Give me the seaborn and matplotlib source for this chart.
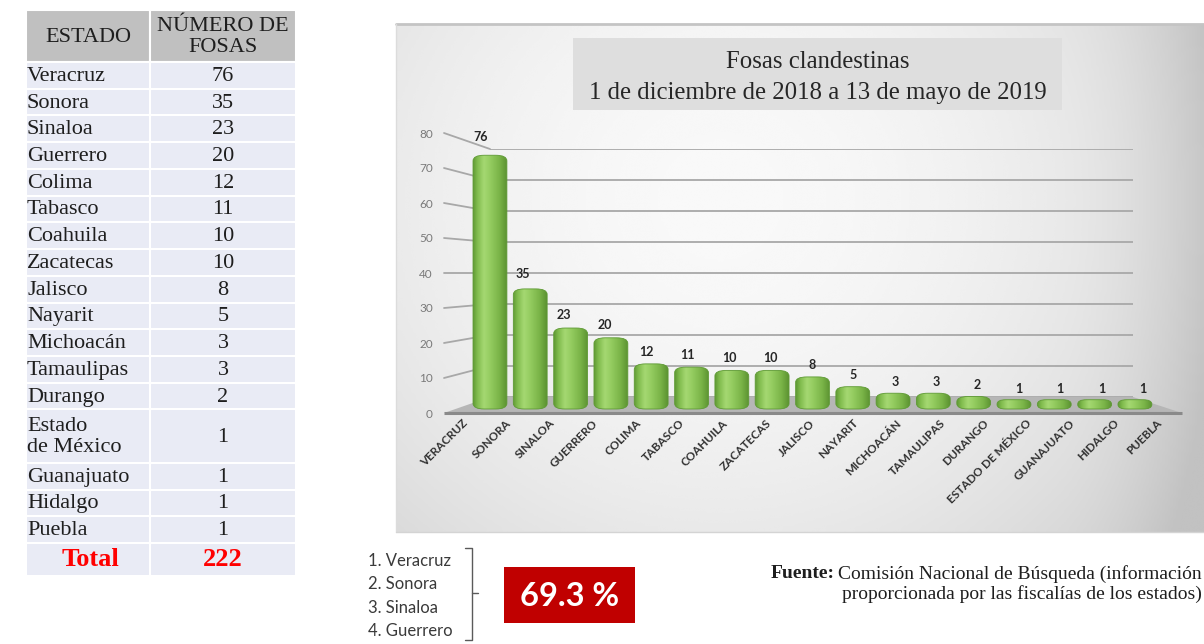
import numpy as np
import pandas as pd
import matplotlib
matplotlib.use("Agg")
import matplotlib.pyplot as plt
import seaborn as sns
from matplotlib.patches import FancyBboxPatch, Rectangle, Polygon
from matplotlib.colors import LinearSegmentedColormap

# ---------------- data ----------------
estados = ["Veracruz", "Sonora", "Sinaloa", "Guerrero", "Colima", "Tabasco",
           "Coahuila", "Zacatecas", "Jalisco", "Nayarit", "Michoacán",
           "Tamaulipas", "Durango", "Estado\nde México", "Guanajuato",
           "Hidalgo", "Puebla"]
fosas = [76, 35, 23, 20, 12, 11, 10, 10, 8, 5, 3, 3, 2, 1, 1, 1, 1]
etiquetas_x = ["VERACRUZ", "SONORA", "SINALOA", "GUERRERO", "COLIMA", "TABASCO",
               "COAHUILA", "ZACATECAS", "JALISCO", "NAYARIT", "MICHOACÁN",
               "TAMAULIPAS", "DURANGO", "ESTADO DE MÉXICO", "GUANAJUATO",
               "HIDALGO", "PUEBLA"]
total_fosas = "222"
y_ticks = [0, 10, 20, 30, 40, 50, 60, 70, 80]
encabezados = ["ESTADO", "NÚMERO DE\nFOSAS"]
titulo = "Fosas clandestinas\n1 de diciembre de 2018 a 13 de mayo de 2019"
top4 = ["1. Veracruz", "2. Sonora", "3. Sinaloa", "4. Guerrero"]
porcentaje = "69.3 %"
fuente_bold = "Fuente:"
fuente_lineas = ["Comisión Nacional de Búsqueda (información",
                 "proporcionada por las fiscalías de los estados)"]

# ---------------- setup ----------------
sns.set_style("white")
plt.rcParams['font.family'] = ['Lato', 'DejaVu Sans']
SERIF = ['Liberation Serif', 'DejaVu Serif']

W, H = 1204, 644
fig = plt.figure(figsize=(W / 100, H / 100), dpi=100)
fig.patch.set_facecolor('white')


def add_ax(x0, x1, y_top, y_bot, z):
    a = fig.add_axes([x0 / W, 1 - y_bot / H, (x1 - x0) / W, (y_bot - y_top) / H])
    a.set_zorder(z)
    a.patch.set_alpha(0)
    return a


# background overlay (pixel coordinates)
ov_back = add_ax(0, W, 0, H, 0)
ov_back.set_xlim(0, W); ov_back.set_ylim(H, 0); ov_back.axis('off')

# chart panel gradient
xs = np.linspace(396, 1204, 300)
ys = np.linspace(24, 532, 200)
XX, YY = np.meshgrid(xs, ys)
d2 = ((XX - 720) / 480) ** 2 + ((YY - 200) / 460) ** 2
val = 0.975 - 0.12 * d2 - 0.07 * np.clip((XX - 1060) / 144, 0, 1) ** 2
val = np.clip(val, 0.76, 1)
ov_back.imshow(val, extent=[396, 1204, 532, 24], cmap='gray', vmin=0, vmax=1,
               aspect='auto', interpolation='bicubic', zorder=0)
ov_back.plot([396, 1204], [24, 24], color='#c4c4c4', lw=2, zorder=1)
ov_back.plot([396, 396], [24, 532], color='#dcdcdc', lw=1, zorder=1)
ov_back.plot([396, 1204], [532, 532], color='#d4d4d4', lw=1, zorder=1)
ov_back.set_xlim(0, W); ov_back.set_ylim(H, 0)

# ---------------- 3D-look axes ----------------
# back wall (gridlines)
ax_wall = add_ax(490, 1133, 397 - 80 * 3.1, 397, 1)
ax_wall.set_ylim(0, 80)
ax_wall.set_xlim(0, 1)
ax_wall.set_yticks(y_ticks)
ax_wall.set_xticks([])
ax_wall.tick_params(left=False, labelleft=False)
ax_wall.grid(axis='y', color='#a8a8a8', lw=1.3)
for s in ax_wall.spines.values():
    s.set_visible(False)

# front plane (floor edge, tick labels)
ax_front = add_ax(444, 1182, 413 - 80 * 3.5, 413, 2)
ax_front.set_ylim(0, 80)
ax_front.set_xlim(-0.5, len(fosas) - 0.5)
ax_front.set_yticks(y_ticks)
ax_front.set_yticklabels([str(t) for t in y_ticks], fontsize=8.5, color='#7a7a7a')
ax_front.set_xticks(range(len(etiquetas_x)))
ax_front.set_xticklabels(etiquetas_x, fontsize=8.4, fontweight='bold', color='#333333')
ax_front.tick_params(axis='y', length=0, pad=8)
ax_front.tick_params(axis='x', length=0, pad=6)
for lab in ax_front.get_xticklabels():
    lab.set_rotation(45)
    lab.set_ha('right')
    lab.set_va('center')
    lab.set_rotation_mode('anchor')
for s in ax_front.spines.values():
    s.set_visible(False)
ax_front.grid(False)

fig.canvas.draw()
inv_front = ax_front.transData.inverted()


def wall_to_front(xw, v):
    return inv_front.transform(ax_wall.transData.transform((xw, v)))


# connectors between tick labels and back wall
for v in y_ticks[1:]:
    p1 = wall_to_front(0, v)
    ax_front.plot([-0.5, p1[0]], [v, p1[1]], color='#a8a8a8', lw=1.3, clip_on=False)

# floor
bl = wall_to_front(0, 0)
br = wall_to_front(1, 0)
floor = Polygon([[-0.5, 0], bl, br, [len(fosas) - 0.5, 0]], closed=True,
                facecolor='#b6b6b6', edgecolor='none', clip_on=False, zorder=1)
ax_front.add_patch(floor)
ax_front.plot([-0.5, len(fosas) - 0.5], [0, 0], color='#8a8a8a', lw=2.2,
              clip_on=False, zorder=2, solid_capstyle='butt')
ax_front.set_ylim(0, 80)
ax_front.set_xlim(-0.5, len(fosas) - 0.5)

# ---------------- bars ----------------
PXU = 3.26          # pixels per unit (bars)
Y0 = 406            # pixel row of value 0
YMIN = -3
ax = add_ax(469.8, 469.8 + 40.31 * len(fosas), Y0 - 80 * PXU, Y0 - YMIN * PXU, 3)
df = pd.DataFrame({'estado': etiquetas_x, 'fosas': fosas})
padx = 0.15
sns.barplot(data=df, x='estado', y='fosas', order=etiquetas_x, color='#8dc65a',
            width=0.84 - 2 * padx, ax=ax, errorbar=None)

green = LinearSegmentedColormap.from_list('cyl', [
    (0.0, '#619b35'), (0.12, '#80bb4d'), (0.32, '#a5d872'), (0.5, '#95cd61'),
    (0.8, '#78b246'), (1.0, '#5c9332')])
grad = np.linspace(0, 1, 64)[np.newaxis, :]

pady_px = 3.0
aspect = (pady_px / PXU) / padx
bars = list(ax.patches)
for i, p in enumerate(bars):
    x0, w, h = p.get_x(), p.get_width(), p.get_height()
    p.remove()
    tot_px = h * PXU + 2 * pady_px
    r = min(0.28, (tot_px / 2 - 0.3) / (aspect * PXU))
    fb = FancyBboxPatch((x0, 0), w, h,
                        boxstyle=f"round,pad={padx},rounding_size={r}",
                        mutation_aspect=aspect, facecolor='none',
                        edgecolor='#5e9a34', lw=0.6, zorder=4)
    ax.add_patch(fb)
    im = ax.imshow(grad, extent=[x0 - padx, x0 + w + padx, -pady_px / PXU, h + pady_px / PXU],
                   cmap=green, aspect='auto', interpolation='bicubic', zorder=3)
    im.set_clip_path(fb)
    v = fosas[i]
    ax.annotate(str(v), xy=(x0 + w / 2, v), xytext=(-9 + i * 1.07, 14 + 0.1 * v),
                textcoords='offset pixels', ha='center', va='center',
                fontsize=9, fontweight='bold', color='#262626', annotation_clip=False)

ax.set_xlim(-0.5, len(fosas) - 0.5)
ax.set_ylim(YMIN, 80)
ax.axis('off')

# ---------------- foreground overlay ----------------
ov = add_ax(0, W, 0, H, 5)
ov.set_xlim(0, W); ov.set_ylim(H, 0); ov.axis('off')

# title box
ov.add_patch(Rectangle((573, 38), 489, 72, facecolor='#dedede', edgecolor='none'))
t1, t2 = titulo.split("\n")
ov.text(818, 62, t1, ha='center', va='center', fontsize=17.8, family=SERIF, color='#262626')
ov.text(818, 93, t2, ha='center', va='center', fontsize=17.8, family=SERIF, color='#262626')

# table
TL, TM, TR = 26, 150, 296
ov.add_patch(Rectangle((TL, 10), TM - TL, 52, facecolor='#c0c0c0', edgecolor='white', lw=1.5))
ov.add_patch(Rectangle((TM, 10), TR - TM, 52, facecolor='#c0c0c0', edgecolor='white', lw=1.5))
ov.text((TL + TM) / 2, 37, encabezados[0], ha='center', va='center', fontsize=16,
        family=SERIF, color='#1e1e1e')
ov.text((TM + TR) / 2, 37, encabezados[1], ha='center', va='center', fontsize=16,
        family=SERIF, color='#1e1e1e', linespacing=1.12)

units = [2 if "\n" in e else 1 for e in estados]
row_h = (543 - 62) / sum(units)
y = 62
for e, v, u in zip(estados, fosas, units):
    hh = row_h * u
    ov.add_patch(Rectangle((TL, y), TM - TL, hh, facecolor='#e9ebf5', edgecolor='white', lw=1.5))
    ov.add_patch(Rectangle((TM, y), TR - TM, hh, facecolor='#e9ebf5', edgecolor='white', lw=1.5))
    ov.text(TL + 1, y + hh / 2 + 1, e, ha='left', va='center', fontsize=16,
            family=SERIF, color='#1e1e1e', linespacing=1.15)
    ov.text((TM + TR) / 2, y + hh / 2 + 1, str(v), ha='center', va='center', fontsize=16,
            family=SERIF, color='#1e1e1e')
    y += hh
ov.add_patch(Rectangle((TL, y), TM - TL, 33, facecolor='#e9ebf5', edgecolor='white', lw=1.5))
ov.add_patch(Rectangle((TM, y), TR - TM, 33, facecolor='#e9ebf5', edgecolor='white', lw=1.5))
ov.text(90, y + 17, "Total", ha='center', va='center', fontsize=19, fontweight='bold',
        family=SERIF, color='#ff0000')
ov.text((TM + TR) / 2, y + 17, total_fosas, ha='center', va='center', fontsize=19,
        fontweight='bold', family=SERIF, color='#ff0000')

# top-4 list with bracket
for k, s in enumerate(top4):
    ov.text(368, 561 + k * 23.3, s, ha='left', va='center', fontsize=12, color='#3a3a3a')
ov.plot([465, 472, 472, 465], [548, 548, 640, 640], color='#5a5a5a', lw=1)
ov.plot([472, 478], [593, 593], color='#5a5a5a', lw=1)

# red percentage box
ov.add_patch(Rectangle((504, 567), 131, 56, facecolor='#c00000', edgecolor='none'))
ov.text(569.5, 596, porcentaje, ha='center', va='center', fontsize=23.5,
        fontweight='bold', color='white')

# source note
fig.canvas.draw()
rend = fig.canvas.get_renderer()
tl1 = ov.text(1202, 574, fuente_lineas[0], ha='right', va='center', fontsize=14,
              family=SERIF, color='#1e1e1e')
ov.text(1202, 594, fuente_lineas[1], ha='right', va='center', fontsize=14,
        family=SERIF, color='#1e1e1e')
bb = tl1.get_window_extent(renderer=rend)
x_left_px = bb.x0  # display pixels (dpi=100 -> same as image px)
ov.text(x_left_px - 4, 574, fuente_bold, ha='right', va='center', fontsize=14,
        family=SERIF, fontweight='bold', color='#1e1e1e')

fig.savefig("out.png", dpi=100)
